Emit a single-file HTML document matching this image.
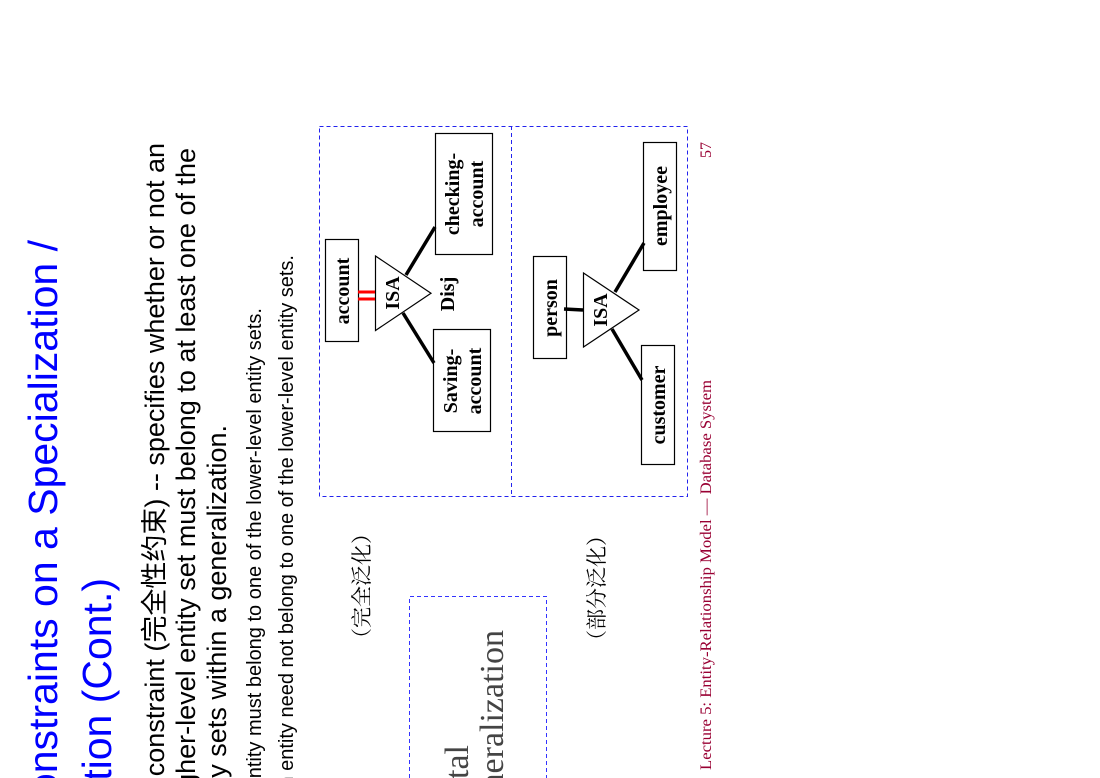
<!DOCTYPE html>
<html><head><meta charset="utf-8"><style>
html,body{margin:0;padding:0;background:#fff;overflow:hidden;width:1100px;height:778px}
svg{display:block}
.s{font-family:"Liberation Sans","Noto Sans CJK SC",sans-serif}
.t{font-family:"Liberation Serif","Noto Serif CJK SC",serif}
.b{font-family:"Liberation Serif",serif;font-weight:bold;font-size:20px}
</style></head><body>
<svg width="1100" height="778" viewBox="0 0 1100 778" xmlns="http://www.w3.org/2000/svg">
<rect width="1100" height="778" fill="#fff"/>
<g class="s" fill="#0000ff" font-size="41">
<text transform="translate(57,240) rotate(-90)" text-anchor="end">Constraints on a Specialization /</text>
<text transform="translate(111,578) rotate(-90)" text-anchor="end">Generalization (Cont.)</text>
</g>
<g class="s" fill="#000" font-size="27">
<text transform="translate(164,143) rotate(-90)" text-anchor="end">Completeness constraint (完全性约束) -- specifies whether or not an</text>
<text transform="translate(195,148) rotate(-90)" text-anchor="end">entity in the higher-level entity set must belong to at least one of the</text>
<text transform="translate(226,425) rotate(-90)" text-anchor="end">lower-level entity sets within a generalization.</text>
</g>
<g class="s" fill="#000" font-size="20">
<text transform="translate(261,308) rotate(-90)" text-anchor="end">total : an entity must belong to one of the lower-level entity sets.</text>
<text transform="translate(293,255) rotate(-90)" text-anchor="end">partial: an entity need not belong to one of the lower-level entity sets.</text>
</g>
<g class="t" fill="#000" font-size="21">
<text transform="translate(369,586) rotate(-90)" text-anchor="middle">（完全泛化）</text>
<text transform="translate(604,588) rotate(-90)" text-anchor="middle">（部分泛化）</text>
</g>
<path d="M409.5,778 V596.5 H546.5 V778" fill="none" stroke="#3333ff" stroke-width="1" stroke-dasharray="4,3"/>
<g class="t" fill="#444" font-size="34">
<text transform="translate(468,745) rotate(-90)" text-anchor="end">total</text>
<text transform="translate(503,630) rotate(-90)" text-anchor="end">generalization</text>
</g>
<rect x="319.5" y="126.5" width="368" height="370" fill="none" stroke="#2222ee" stroke-width="1" stroke-dasharray="4,3"/>
<line x1="511.5" y1="126" x2="511.5" y2="497" stroke="#2222ee" stroke-width="1" stroke-dasharray="4,3"/>
<g fill="#fff" stroke="#000" stroke-width="1.2">
<rect x="325.5" y="239.5" width="33" height="102"/>
<rect x="435.5" y="133.5" width="57" height="121"/>
<rect x="433.5" y="329.5" width="57" height="102"/>
<polygon points="375.5,256 375.5,330.5 431,293.3"/>
<rect x="533.5" y="256.5" width="33" height="102"/>
<rect x="643.5" y="142.5" width="33" height="128"/>
<rect x="641.5" y="345.5" width="33" height="119"/>
<polygon points="583.5,273 583.5,347 639,310"/>
</g>
<g stroke="#000" stroke-width="3.5">
<line x1="406" y1="275" x2="435" y2="227"/>
<line x1="403" y1="313" x2="434" y2="363"/>
<line x1="564" y1="309" x2="583" y2="310"/>
<line x1="615" y1="292" x2="644" y2="243"/>
<line x1="612" y1="329" x2="642" y2="380"/>
</g>
<g stroke="#ff0000" stroke-width="3">
<line x1="358" y1="292" x2="375" y2="292"/>
<line x1="358" y1="299" x2="375" y2="299"/>
</g>
<g class="b" fill="#000" text-anchor="middle">
<text transform="translate(349,291) rotate(-90)">account</text>
<text transform="translate(399,293) rotate(-90)">ISA</text>
<text transform="translate(459,194) rotate(-90)">checking-</text>
<text transform="translate(483,194) rotate(-90)">account</text>
<text transform="translate(457,381) rotate(-90)">Saving-</text>
<text transform="translate(481,381) rotate(-90)">account</text>
<text transform="translate(454,294) rotate(-90)">Disj</text>
<text transform="translate(557,308) rotate(-90)">person</text>
<text transform="translate(607,310) rotate(-90)">ISA</text>
<text transform="translate(667,206) rotate(-90)">employee</text>
<text transform="translate(665,405) rotate(-90)">customer</text>
</g>
<g class="t" fill="#990033" font-size="16">
<text transform="translate(711,770) rotate(-90)" textLength="390" lengthAdjust="spacingAndGlyphs">Lecture 5: Entity-Relationship Model — Database System</text>
<text transform="translate(711,158) rotate(-90)">57</text>
</g>
</svg>
</body></html>
